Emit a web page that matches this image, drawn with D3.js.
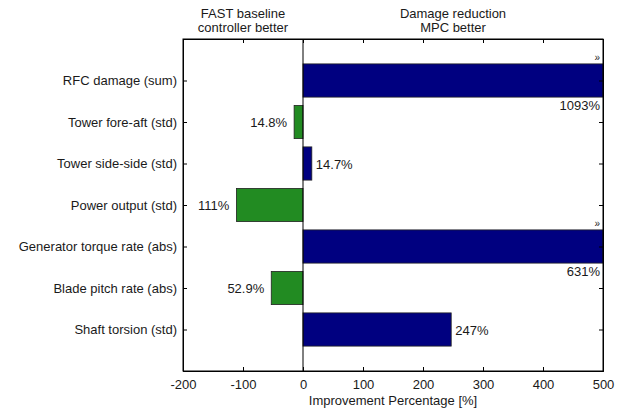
<!DOCTYPE html>
<html>
<head>
<meta charset="utf-8">
<script src="https://cdn.jsdelivr.net/npm/d3@7"></script>
<style>
  body { margin: 0; background: #fff; }
  text { font-family: "Liberation Sans", Arial, sans-serif; fill: #1a1a1a; }
</style>
</head>
<body>
<div id="chart"></div>
<script>
// measures shown top to bottom
var categories = ["RFC damage (sum)", "Tower fore-aft (std)", "Tower side-side (std)",
    "Power output (std)", "Generator torque rate (abs)", "Blade pitch rate (abs)", "Shaft torsion (std)"];
var improvement = [1093, -14.8, 14.7, -111, 631, -52.9, 247];
var valueLabels = ["1093%", "14.8%", "14.7%", "111%", "631%", "52.9%", "247%"];
var xTicks = [-200, -100, 0, 100, 200, 300, 400, 500];
var sideTitles = [["FAST baseline", "controller better"], ["Damage reduction", "MPC better"]];

var width = 628, height = 411;
var margin = {top: 39, right: 25, bottom: 40, left: 183};
var xMax = 500;
var fs = "13px";

var svg = d3.select("#chart").append("svg")
    .attr("width", width)
    .attr("height", height);

var x = d3.scaleLinear().domain([-200, 500]).range([margin.left, width - margin.right]);
// 7 bars on slots 1..7 of 0..8
var y = d3.scaleLinear().domain([0, categories.length + 1]).range([margin.top, height - margin.bottom]);
var barH = (y(1) - y(0)) * 0.8;

var data = categories.map(function(c, i) {
    return {name: c, v: improvement[i], label: valueLabels[i], pos: i + 1};
});

// bars
svg.selectAll("rect.bar")
    .data(data)
    .enter()
    .append("rect")
    .attr("class", "bar")
    .attr("x", function(d) { return x(Math.min(0, d.v)); })
    .attr("y", function(d) { return y(d.pos) - barH / 2; })
    .attr("width", function(d) { return Math.abs(x(Math.min(d.v, xMax)) - x(0)); })
    .attr("height", barH)
    .attr("fill", function(d) { return d.v < 0 ? "#228b22" : "#000080"; })
    .attr("stroke", "#222")
    .attr("stroke-width", 0.8);

// value labels
svg.selectAll("text.val")
    .data(data)
    .enter()
    .append("text")
    .attr("class", "val")
    .style("font-size", fs)
    .attr("text-anchor", function(d) { return d.v < 0 || d.v > xMax ? "end" : "start"; })
    .attr("x", function(d) {
        if (d.v > xMax) return x(xMax) - 3;
        return d.v < 0 ? x(d.v) - 7 : x(d.v) + 4;
    })
    .attr("y", function(d) {
        return d.v > xMax ? y(d.pos) + barH / 2 + 13 : y(d.pos) + 5;
    })
    .text(function(d) { return d.label; });

// overflow markers
svg.selectAll("text.over")
    .data(data.filter(function(d) { return d.v > xMax; }))
    .enter()
    .append("text")
    .attr("class", "over")
    .style("font-size", "10px")
    .attr("text-anchor", "end")
    .attr("x", x(xMax) - 3)
    .attr("y", function(d) { return y(d.pos) - barH / 2 - 3; })
    .text("\u00bb");

// zero line
svg.append("line")
    .attr("x1", x(0)).attr("x2", x(0))
    .attr("y1", y(0)).attr("y2", y(categories.length + 1))
    .attr("stroke", "#000").attr("stroke-width", 1);

// axes with inward ticks
var yPos = categories.map(function(c, i) { return i + 1; });

var gx = svg.append("g")
    .attr("transform", "translate(0," + y(categories.length + 1) + ")")
    .call(d3.axisBottom(x).tickValues(xTicks).tickSize(-4).tickPadding(9).tickFormat(d3.format("d")));
svg.append("g")
    .attr("transform", "translate(0," + y(0) + ")")
    .call(d3.axisTop(x).tickValues(xTicks).tickSize(-4).tickFormat(""));
var gy = svg.append("g")
    .attr("transform", "translate(" + x(-200) + ",0)")
    .call(d3.axisLeft(y).tickValues(yPos).tickSize(-4).tickPadding(6)
        .tickFormat(function(d) { return categories[d - 1]; }));
svg.append("g")
    .attr("transform", "translate(" + x(500) + ",0)")
    .call(d3.axisRight(y).tickValues(yPos).tickSize(-4).tickFormat(""));

svg.selectAll(".domain").attr("stroke", "#000");
svg.selectAll(".tick line").attr("stroke", "#000");
svg.selectAll(".tick text").style("font-size", fs).style("font-family", "Liberation Sans, Arial, sans-serif").attr("fill", "#1a1a1a");
gx.selectAll(".tick text").text(function(d) { return d < 0 ? "-" + Math.abs(d) : d; });

// box closing lines
svg.append("rect")
    .attr("x", x(-200)).attr("y", y(0))
    .attr("width", x(500) - x(-200)).attr("height", y(categories.length + 1) - y(0))
    .attr("fill", "none").attr("stroke", "#000").attr("stroke-width", 1);

// axis label
svg.append("text")
    .style("font-size", fs)
    .attr("text-anchor", "middle")
    .attr("x", x(150))
    .attr("y", height - 6)
    .text("Improvement Percentage [%]");

// side titles above the plot
var titleX = [x(-100), x(250)];
sideTitles.forEach(function(lines, k) {
    lines.forEach(function(t, j) {
        svg.append("text")
            .style("font-size", fs)
            .attr("text-anchor", "middle")
            .attr("x", titleX[k])
            .attr("y", 18 + j * 14)
            .text(t);
    });
});
</script>
</body>
</html>
